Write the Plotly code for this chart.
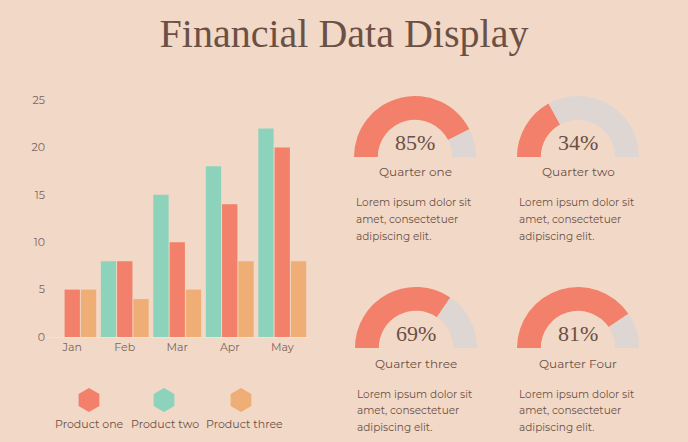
import plotly.graph_objects as go

# ---- data ----
months = ["Jan", "Feb", "Mar", "Apr", "May"]
product_one = [5, 8, 10, 14, 20]
product_two = [0, 8, 15, 18, 22]
product_three = [5, 4, 5, 8, 8]
series_names = ["Product one", "Product two", "Product three"]
y_ticks = [0, 5, 10, 15, 20, 25]

quarters = ["Quarter one", "Quarter two", "Quarter three", "Quarter Four"]
quarter_pct = [85, 34, 69, 81]
lorem_lines = ["Lorem ipsum dolor sit", "amet, consectetuer", "adipiscing elit."]

# ---- style ----
BG = "#F2D8C7"
RED = "#F2806A"
GREEN = "#8DD3BB"
ORANGE = "#EEAE76"
GRAY = "#DDD6D3"
TXT = "#6B5045"
TICK = "#7A665D"
W, H = 688, 442
SANS = "Montserrat, Lato, 'Noto Sans', sans-serif"
SERIF = "'Liberation Serif', 'DejaVu Serif', serif"

fig = go.Figure()

# bars: order within group = two, one, three
bar_specs = [(product_two, series_names[1], GREEN),
             (product_one, series_names[0], RED),
             (product_three, series_names[2], ORANGE)]
for vals, name, col in bar_specs:
    fig.add_trace(go.Bar(x=months, y=vals, name=name, marker=dict(color=col, line=dict(width=0)),
                         showlegend=False, xaxis="x", yaxis="y"))

# custom legend (hexagons)
legend_x = [89, 164, 241]
legend_cols = [RED, GREEN, ORANGE]
fig.add_trace(go.Scatter(x=legend_x, y=[400] * 3, mode="markers",
                         marker=dict(symbol="hexagon", size=24, color=legend_cols, line=dict(width=0)),
                         showlegend=False, hoverinfo="skip", xaxis="x2", yaxis="y2"))
for lx, nm in zip([89, 165, 244], series_names):
    fig.add_annotation(x=lx / W, y=1 - 424 / H, xref="paper", yref="paper", text=nm, showarrow=False,
                       font=dict(family=SANS, size=11, color=TXT), xanchor="center", yanchor="middle")

# gauges
centers = [(415, 157), (578, 157), (416, 348), (578, 348)]
R = 61
line_offsets = [46, 62.5, 79]
for (cx, cy), pct, q in zip(centers, quarter_pct, quarters):
    fig.add_trace(go.Pie(values=[pct, 100 - pct, 100], sort=False, direction="clockwise", rotation=-90,
                         hole=0.61, textinfo="none", hoverinfo="skip", showlegend=False,
                         marker=dict(colors=[RED, GRAY, "rgba(0,0,0,0)"], line=dict(width=0)),
                         domain=dict(x=[(cx - R) / W, (cx + R) / W], y=[1 - (cy + R) / H, 1 - (cy - R) / H])))
    fig.add_annotation(x=cx / W, y=1 - (cy - 15) / H, xref="paper", yref="paper", text=f"{pct}%",
                       showarrow=False, font=dict(family=SERIF, size=22, color=TXT),
                       xanchor="center", yanchor="middle")
    fig.add_annotation(x=cx / W, y=1 - (cy + 15) / H, xref="paper", yref="paper", text=q,
                       showarrow=False, font=dict(family=SANS, size=12, color=TXT),
                       xanchor="center", yanchor="middle")
    for off, ln in zip(line_offsets, lorem_lines):
        fig.add_annotation(x=(cx - 61) / W, y=1 - (cy + off) / H, xref="paper", yref="paper", text=ln,
                           showarrow=False, align="left", font=dict(family=SANS, size=10.5, color=TXT),
                           xanchor="left", yanchor="middle")

fig.update_layout(
    width=W, height=H, margin=dict(l=0, r=0, t=0, b=0, pad=0, autoexpand=False),
    paper_bgcolor=BG, plot_bgcolor="rgba(0,0,0,0)",
    barmode="group", bargap=0.07, bargroupgap=0.06,
    title=dict(text="Financial Data Display", x=0.5, xanchor="center", y=1 - 33 / H, yanchor="middle",
               font=dict(family=SERIF, size=40, color=TXT)),
    xaxis=dict(domain=[46 / W, 308.5 / W], showgrid=False, zeroline=False, showline=True, automargin=False,
               linecolor="#F5E0D3", linewidth=1, ticks="", tickfont=dict(family=SANS, size=11, color=TICK)),
    yaxis=dict(domain=[1 - 337 / H, 1 - 100 / H], range=[0, 25], tickvals=y_ticks, showgrid=False,
               automargin=False, zeroline=False, ticks="", tickfont=dict(family=SANS, size=11, color=TICK)),
    xaxis2=dict(domain=[0, 1], range=[0, W], visible=False, fixedrange=True, anchor="y2"),
    yaxis2=dict(domain=[0, 1], range=[H, 0], visible=False, fixedrange=True, anchor="x2"),
)

post = ("var s=document.createElement('style');"
        "s.innerHTML='html,body{margin:0;padding:0;overflow:hidden;background:#F2D8C7;}';"
        "document.head.appendChild(s);")
fig.write_html("out.html", config={"displayModeBar": False}, post_script=post)
